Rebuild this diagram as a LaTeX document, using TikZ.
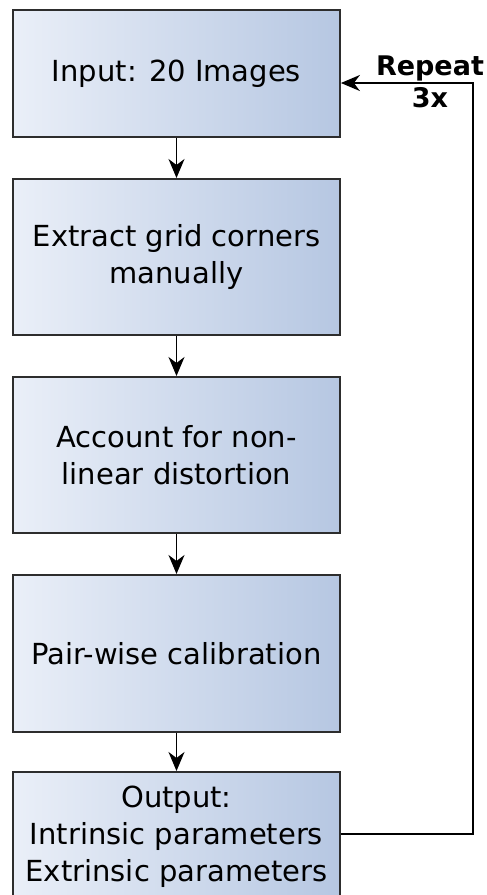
\documentclass[tikz,border=0pt]{standalone}
\usepackage{fontspec}
\setmainfont{DejaVu Sans}
\usetikzlibrary{arrows.meta}
\definecolor{boxleft}{RGB}{234,239,248}
\definecolor{boxright}{RGB}{182,199,226}
\definecolor{edgecol}{RGB}{45,45,45}
\tikzset{
  stepbox/.style={rectangle, draw=edgecol, line width=1.8pt, left color=boxleft, right color=boxright,
    minimum width=327pt, align=center, font=\fontsize{29}{37}\selectfont, inner sep=0pt, anchor=north},
  arr/.style={draw=black, line width=1.5pt, -{Stealth[length=19pt,width=16pt,inset=6pt]}},
}
\begin{document}
\begin{tikzpicture}[x=1pt,y=-1pt]
\useasboundingbox (0,0) rectangle (487,895);
\clip (0,0) rectangle (487,895);
\fill[white] (0,0) rectangle (487,895);
\node[stepbox, minimum height=127pt] (b1) at (176.5,9) {Input: 20 Images};
\node[stepbox, minimum height=156pt] (b2) at (176.5,178) {Extract grid corners\\manually};
\node[stepbox, minimum height=156pt] (b3) at (176.5,376) {Account for non-\\linear distortion};
\node[stepbox, minimum height=157pt] (b4) at (176.5,574) {Pair-wise calibration};
\node[stepbox, minimum height=130pt] (b5) at (176.5,771) {Output:\\Intrinsic parameters\\Extrinsic parameters};
\draw[arr] (b1) -- (b2);
\draw[arr] (b2) -- (b3);
\draw[arr] (b3) -- (b4);
\draw[arr] (b4) -- (b5);
\coordinate (loopA) at (473,834);
\coordinate (loopB) at (473,83);
\draw[arr] (b5.east |- loopA) -- (loopA) -- (loopB) -- (b1.east |- loopB);
\node[align=center, font=\bfseries\fontsize{27}{32}\selectfont, inner sep=0pt] (rep) at (430,82) {Repeat\\3x};
\end{tikzpicture}
\end{document}
